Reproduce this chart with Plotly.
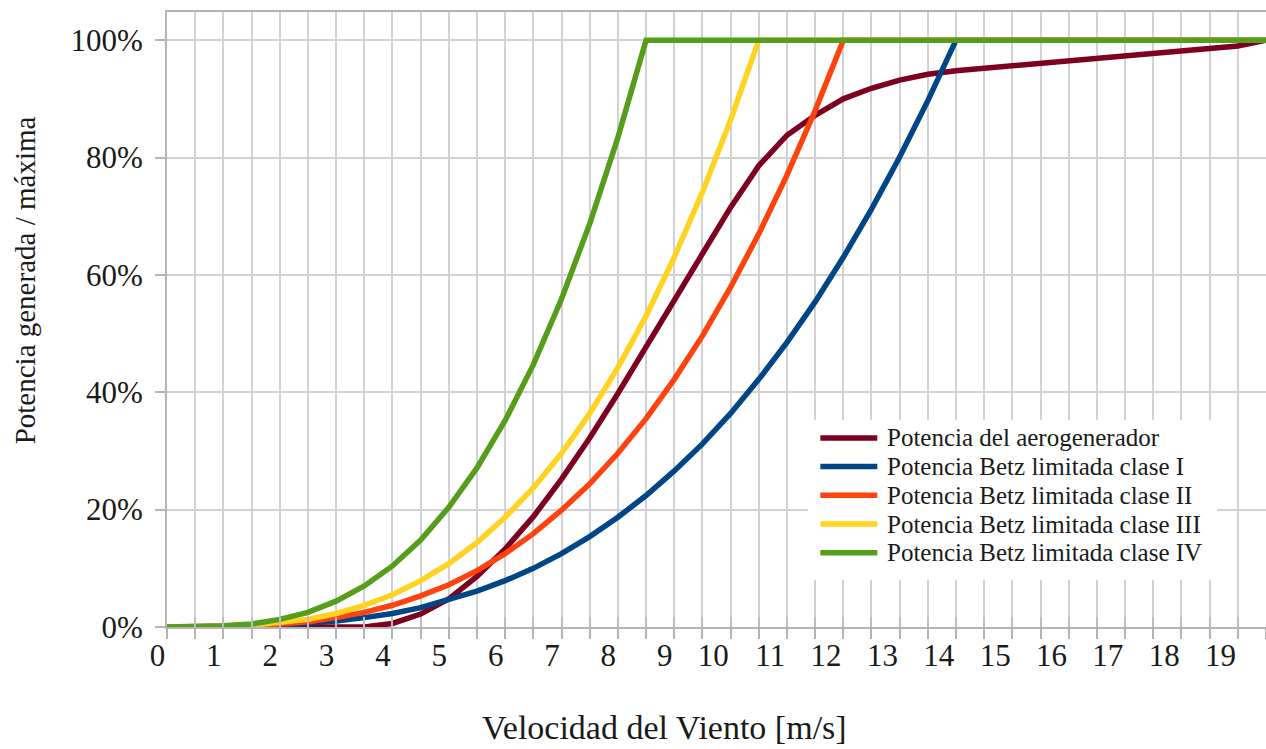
import plotly.graph_objects as go

# Wind speed categories (m/s), one data point every half metre per second
wind_speed = [0.0, 0.5, 1.0, 1.5, 2.0, 2.5, 3.0, 3.5, 4.0, 4.5,
              5.0, 5.5, 6.0, 6.5, 7.0, 7.5, 8.0, 8.5, 9.0, 9.5,
              10.0, 10.5, 11.0, 11.5, 12.0, 12.5, 13.0, 13.5, 14.0, 14.5,
              15.0, 15.5, 16.0, 16.5, 17.0, 17.5, 18.0, 18.5, 19.0, 19.5]

speed_labels = ["0", "1", "2", "3", "4", "5", "6", "7", "8", "9",
                "10", "11", "12", "13", "14", "15", "16", "17", "18", "19"]

pct_ticks = [0, 20, 40, 60, 80, 100]
pct_labels = ["0%", "20%", "40%", "60%", "80%", "100%"]

# Generated power as % of maximum
turbine = [0, 0, 0, 0, 0, 0, 0, 0, 0.6, 2.2,
           4.8, 8.6, 13.3, 18.8, 25.2, 32.2, 39.8, 47.6, 55.5, 63.6,
           71.5, 78.6, 83.8, 87.2, 90.0, 91.8, 93.2, 94.2, 94.8, 95.2,
           95.6, 96.0, 96.4, 96.8, 97.2, 97.7, 98.2, 98.6, 99.0, 100]

betz_i = [0, 0.0, 0.0, 0.1, 0.3, 0.6, 1.0, 1.6, 2.3, 3.3,
          4.6, 6.1, 7.9, 10.0, 12.5, 15.4, 18.7, 22.4, 26.6, 31.2,
          36.4, 42.2, 48.5, 55.4, 63.0, 71.2, 80.1, 89.7, 100, 100,
          100, 100, 100, 100, 100, 100, 100, 100, 100, 100]

betz_ii = [0, 0.0, 0.1, 0.2, 0.5, 0.9, 1.6, 2.5, 3.7, 5.3,
           7.2, 9.6, 12.5, 15.9, 19.9, 24.4, 29.6, 35.5, 42.2, 49.6,
           57.9, 67.0, 77.0, 88.0, 100, 100, 100, 100, 100, 100,
           100, 100, 100, 100, 100, 100, 100, 100, 100, 100]

betz_iii = [0, 0.0, 0.1, 0.3, 0.7, 1.3, 2.3, 3.7, 5.5, 7.9,
            10.8, 14.4, 18.7, 23.7, 29.6, 36.4, 44.2, 53.0, 63.0, 74.1,
            86.4, 100, 100, 100, 100, 100, 100, 100, 100, 100,
            100, 100, 100, 100, 100, 100, 100, 100, 100, 100]

betz_iv = [0, 0.0, 0.2, 0.5, 1.3, 2.5, 4.4, 7.0, 10.4, 14.8,
           20.4, 27.1, 35.2, 44.7, 55.9, 68.7, 83.4, 100, 100, 100,
           100, 100, 100, 100, 100, 100, 100, 100, 100, 100,
           100, 100, 100, 100, 100, 100, 100, 100, 100, 100]

series_names = ["Potencia del aerogenerador",
                "Potencia Betz limitada clase I",
                "Potencia Betz limitada clase II",
                "Potencia Betz limitada clase III",
                "Potencia Betz limitada clase IV"]
series_values = [turbine, betz_i, betz_ii, betz_iii, betz_iv]
series_colors = ["#7e0021", "#004586", "#ff420e", "#ffd320", "#579d1c"]

FONT = "Liberation Serif"
TEXT = "#1a1a1a"
GRID = "#d2d2d2"
AXIS = "#b4b4b4"

fig = go.Figure()
for name, vals, color in zip(series_names, series_values, series_colors):
    fig.add_trace(go.Scatter(x=wind_speed, y=vals, mode="lines", name=name,
                             line=dict(color=color, width=5.5),
                             showlegend=False))

# empty trace so the overlay axis (inner tick marks) gets drawn
fig.add_trace(go.Scatter(x=[], y=[], xaxis="x2", showlegend=False))

tick_text = [speed_labels[int(v)] if v == int(v) else "" for v in wind_speed]

fig.update_layout(
    width=1266, height=749,
    margin=dict(l=167, r=0, t=12, b=122),
    paper_bgcolor="white", plot_bgcolor="white",
    font=dict(family=FONT, color=TEXT),
    xaxis=dict(range=[0, 19.5], tickmode="array", tickvals=wind_speed,
               ticktext=tick_text, ticks="outside", ticklen=10,
               tickcolor=AXIS, tickwidth=1.5,
               ticklabelposition="outside left",
               tickfont=dict(family=FONT, size=31, color=TEXT),
               showgrid=True, gridcolor=GRID, gridwidth=1.5,
               showline=True, linecolor=AXIS, linewidth=2, mirror=True,
               zeroline=False),
    xaxis2=dict(matches="x", overlaying="x", anchor="y", side="bottom",
                tickmode="array", tickvals=wind_speed, ticks="inside",
                ticklen=10, tickcolor="#bdbdbd", tickwidth=1.5,
                showticklabels=False, showgrid=False, showline=False,
                zeroline=False),
    yaxis=dict(range=[0, 104.8], tickmode="array", tickvals=pct_ticks,
               ticktext=pct_labels, ticks="outside", ticklen=10,
               tickcolor=AXIS, tickwidth=1.5, ticklabelstandoff=6,
               tickfont=dict(family=FONT, size=31, color=TEXT),
               showgrid=True, gridcolor=GRID, gridwidth=1.5,
               showline=True, linecolor=AXIS, linewidth=2,
               zeroline=False),
)

# axis titles
fig.add_annotation(text="Velocidad del Viento [m/s]", xref="paper", yref="paper",
                   x=0.4524, y=-0.164, xanchor="center", yanchor="middle",
                   showarrow=False,
                   font=dict(family=FONT, size=34, color=TEXT))
fig.add_annotation(text="Potencia generada / máxima", xref="paper", yref="paper",
                   x=-0.1289, y=0.5642, xanchor="center", yanchor="middle",
                   showarrow=False, textangle=-90,
                   font=dict(family=FONT, size=29, color=TEXT))

# legend box with long line samples
legend_left, legend_right = 0.5834, 0.9554
legend_bottom, legend_top = 0.0768, 0.3367
row_top, row_step = 0.3075, 0.0467
sample_x0, sample_x1, text_x = 0.5945, 0.6463, 0.6534

fig.add_shape(type="rect", xref="paper", yref="paper",
              x0=legend_left, x1=legend_right, y0=legend_bottom, y1=legend_top,
              fillcolor="white", line=dict(width=0), layer="above")
for i, (name, color) in enumerate(zip(series_names, series_colors)):
    yy = row_top - i * row_step
    fig.add_shape(type="line", xref="paper", yref="paper",
                  x0=sample_x0, x1=sample_x1, y0=yy, y1=yy,
                  line=dict(color=color, width=5.5), layer="above")
    fig.add_annotation(text=name, xref="paper", yref="paper", x=text_x, y=yy,
                       xanchor="left", yanchor="middle", showarrow=False,
                       font=dict(family=FONT, size=25, color=TEXT))

fig.write_html("out.html")
